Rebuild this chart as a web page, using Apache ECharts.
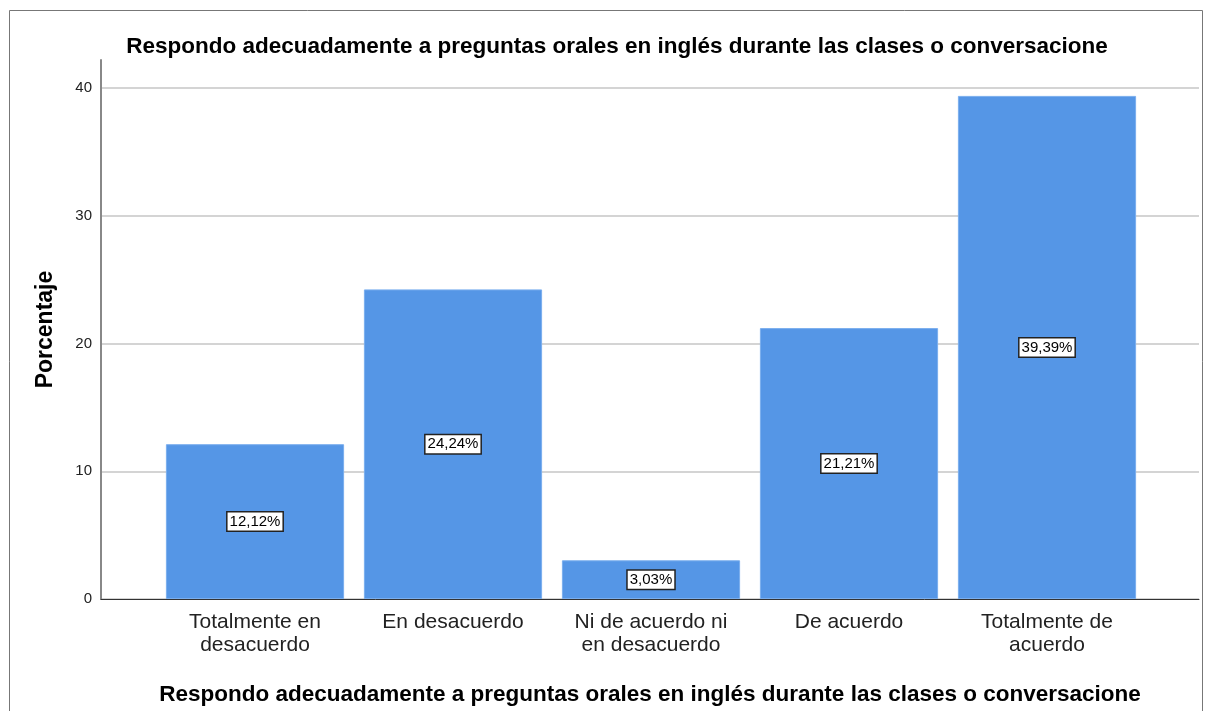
<!DOCTYPE html>
<html>
<head>
<meta charset="utf-8">
<script src="https://cdn.jsdelivr.net/npm/echarts@6/dist/echarts.min.js"></script>
<style>
  html, body { margin: 0; padding: 0; background: #fff; }
  #chart { width: 1207px; height: 711px; }
</style>
</head>
<body>
<div id="chart"></div>
<script>
// datos del gráfico
var titulo = 'Respondo adecuadamente a preguntas orales en inglés durante las clases o conversacione';
var categorias = ['Totalmente en\ndesacuerdo', 'En desacuerdo', 'Ni de acuerdo ni\nen desacuerdo', 'De acuerdo', 'Totalmente de\nacuerdo'];
var porcentajes = [12.12, 24.24, 3.03, 21.21, 39.39];
var yTicks = [0, 10, 20, 30, 40];

var chart = echarts.init(document.getElementById('chart'));

var yMax = 42.2;

var option = {
  animation: false,
  backgroundColor: '#fff',
  textStyle: { fontFamily: 'Liberation Sans, Arial, sans-serif' },
  title: {
    text: titulo,
    left: 612,
    top: 30,
    textAlign: 'center',
    textStyle: { fontSize: 22.5, fontWeight: 'bold', color: '#000' }
  },
  graphic: [{
    type: 'rect',
    shape: { x: 9.5, y: 10.5, width: 1193, height: 720 },
    style: { fill: 'none', stroke: '#777', lineWidth: 1 },
    silent: true
  }],
  grid: [
    // rejilla completa: ejes y líneas
    { left: 101, right: 8, top: 60, bottom: 112 },
    // rejilla de barras
    { left: 156, right: 61, top: 60, bottom: 112 }
  ],
  xAxis: [{
    gridIndex: 0,
    type: 'value',
    min: 0, max: 1,
    axisLine: { show: true, onZero: false, lineStyle: { color: '#333', width: 1 } },
    axisTick: { show: false },
    axisLabel: { show: false },
    splitLine: { show: false },
    name: titulo,
    nameLocation: 'middle',
    nameGap: 84,
    nameTextStyle: { fontSize: 22.5, fontWeight: 'bold', color: '#000' }
  }, {
    gridIndex: 1,
    type: 'category',
    data: categorias,
    axisLine: { show: false },
    axisTick: { show: false },
    axisLabel: { interval: 0, fontSize: 21, color: '#222', margin: 12, lineHeight: 23 }
  }],
  yAxis: [{
    gridIndex: 0,
    type: 'value',
    min: 0, max: yMax,
    interval: 10,
    axisLine: { show: true, lineStyle: { color: '#888', width: 2 } },
    axisTick: { show: false },
    axisLabel: {
      fontSize: 15, color: '#222', margin: 9,
      customValues: yTicks
    },
    splitLine: { show: true, showMaxLine: false, lineStyle: { color: '#d4d4d4', width: 2 } },
    name: 'Porcentaje',
    nameLocation: 'middle',
    nameGap: 44,
    nameTextStyle: { fontSize: 23, fontWeight: 'bold', color: '#000' }
  }, {
    gridIndex: 1,
    type: 'value',
    min: 0, max: yMax,
    show: false
  }],
  series: [{
    type: 'bar',
    xAxisIndex: 1,
    yAxisIndex: 1,
    data: porcentajes,
    barCategoryGap: '10%',
    itemStyle: { color: '#5596e6', borderColor: '#7aaeee', borderWidth: 1 },
    label: {
      show: true,
      position: 'inside',
      formatter: function (p) { return p.value.toFixed(2).replace('.', ',') + '%'; },
      fontSize: 15,
      color: '#000',
      backgroundColor: '#fff',
      borderColor: '#222',
      borderWidth: 1.5,
      padding: [2, 2, 1, 2]
    }
  }]
};

chart.setOption(option);
</script>
</body>
</html>
